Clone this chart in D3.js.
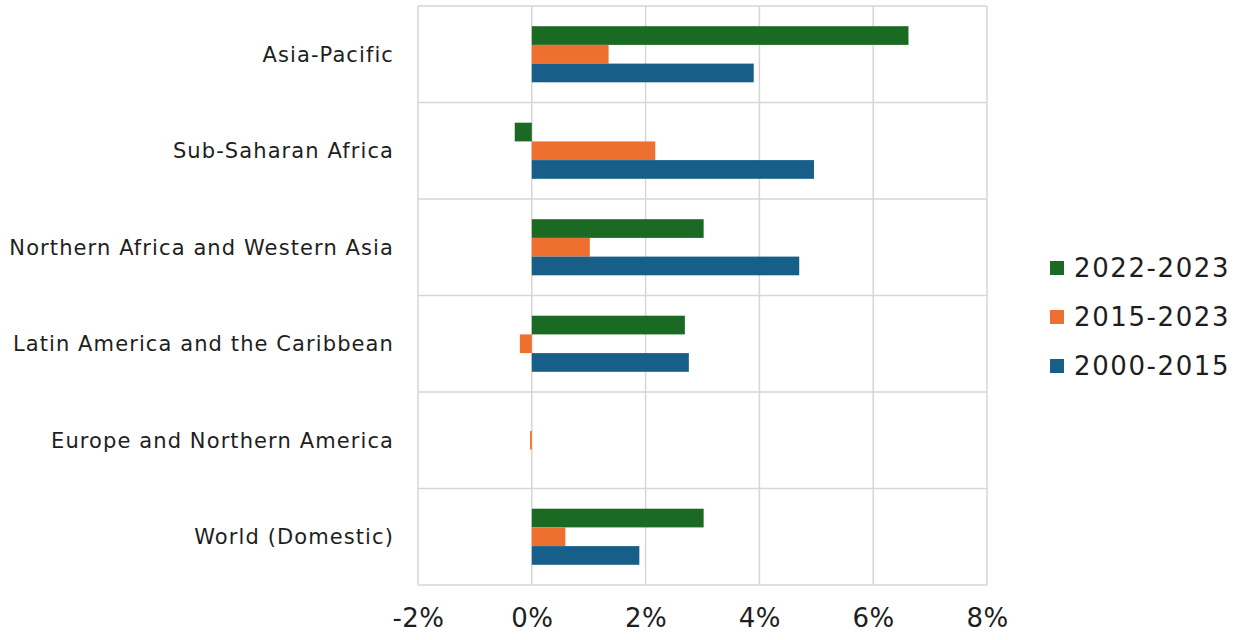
<!DOCTYPE html>
<html>
<head>
<meta charset="utf-8">
<script src="https://cdn.jsdelivr.net/npm/d3@7"></script>
<style>
  html, body { margin: 0; padding: 0; background: #fff; }
  svg { display: block; }
  text { font-family: "DejaVu Sans", sans-serif; fill: #1e1e1e; }
</style>
</head>
<body>
<svg id="chart" width="1235" height="640"></svg>
<script>
// Regions, top to bottom
const regions = [
  "Asia-Pacific",
  "Sub-Saharan Africa",
  "Northern Africa and Western Asia",
  "Latin America and the Caribbean",
  "Europe and Northern America",
  "World (Domestic)"
];

// Series drawn within each region, top to bottom
const seriesNames = ["2022-2023", "2015-2023", "2000-2015"];
const seriesColors = ["#1b6a24", "#ee7031", "#175f88"];

// Average annual growth, percent
const growth2022_2023 = [6.62, -0.30, 3.02, 2.69, 0, 3.02];
const growth2015_2023 = [1.35, 2.17, 1.02, -0.21, -0.03, 0.59];
const growth2000_2015 = [3.90, 4.96, 4.70, 2.76, 0, 1.89];

const xTicks = [-2, 0, 2, 4, 6, 8];

const seriesValues = [growth2022_2023, growth2015_2023, growth2000_2015];

const svg = d3.select("#chart");
const plot = { left: 418, right: 987, top: 6, bottom: 585 };

const x = d3.scaleLinear().domain([-2, 8]).range([plot.left, plot.right]);
const y = d3.scaleBand().domain(regions).range([plot.top, plot.bottom]).padding(0);
const ySub = d3.scaleBand().domain(seriesNames).range([0, y.bandwidth()])
  .paddingInner(0).paddingOuter(1.08);

const grid = "#d6d6d6";

// vertical gridlines
svg.append("g")
  .selectAll("line")
  .data(xTicks)
  .join("line")
  .attr("x1", d => x(d)).attr("x2", d => x(d))
  .attr("y1", plot.top).attr("y2", plot.bottom)
  .attr("stroke", grid).attr("stroke-width", 1.5);

// horizontal row separators and frame
const rowEdges = regions.map(r => y(r)).concat([plot.bottom]);
svg.append("g")
  .selectAll("line")
  .data(rowEdges)
  .join("line")
  .attr("x1", plot.left).attr("x2", plot.right)
  .attr("y1", d => d).attr("y2", d => d)
  .attr("stroke", grid).attr("stroke-width", 1.5);

// bars
const bars = svg.append("g");
seriesNames.forEach((s, si) => {
  bars.append("g")
    .selectAll("rect")
    .data(regions.map((r, i) => ({ region: r, value: seriesValues[si][i] })))
    .join("rect")
    .attr("x", d => x(Math.min(0, d.value)))
    .attr("width", d => Math.abs(x(d.value) - x(0)))
    .attr("y", d => y(d.region) + ySub(s))
    .attr("height", ySub.bandwidth())
    .attr("fill", seriesColors[si]);
});

// category labels
svg.append("g")
  .selectAll("text")
  .data(regions)
  .join("text")
  .attr("x", 394)
  .attr("y", d => y(d) + y.bandwidth() / 2)
  .attr("dy", "0.35em")
  .attr("text-anchor", "end")
  .style("font-size", "21px")
  .style("letter-spacing", "1.1px")
  .text(d => d);

// x axis tick labels
const xAxis = d3.axisBottom(x)
  .tickValues(xTicks)
  .tickFormat(d => d + "%")
  .tickSize(0)
  .tickPadding(0);
const gx = svg.append("g").attr("transform", `translate(0, 609)`).call(xAxis);
gx.select(".domain").remove();
gx.selectAll("text")
  .style("font-family", "'DejaVu Sans', sans-serif")
  .style("font-size", "26px")
  .style("letter-spacing", "0.5px")
  .attr("fill", "#1e1e1e");

// legend
const legend = svg.append("g").attr("transform", "translate(1050, 268)");
const li = legend.selectAll("g")
  .data(seriesNames)
  .join("g")
  .attr("transform", (d, i) => `translate(0, ${i * 49})`);
li.append("rect")
  .attr("x", 0).attr("y", -7).attr("width", 14).attr("height", 14)
  .attr("fill", (d, i) => seriesColors[i]);
li.append("text")
  .attr("x", 24).attr("y", 0).attr("dy", "0.35em")
  .style("font-size", "26px")
  .style("letter-spacing", "1.6px")
  .text(d => d);
</script>
</body>
</html>
